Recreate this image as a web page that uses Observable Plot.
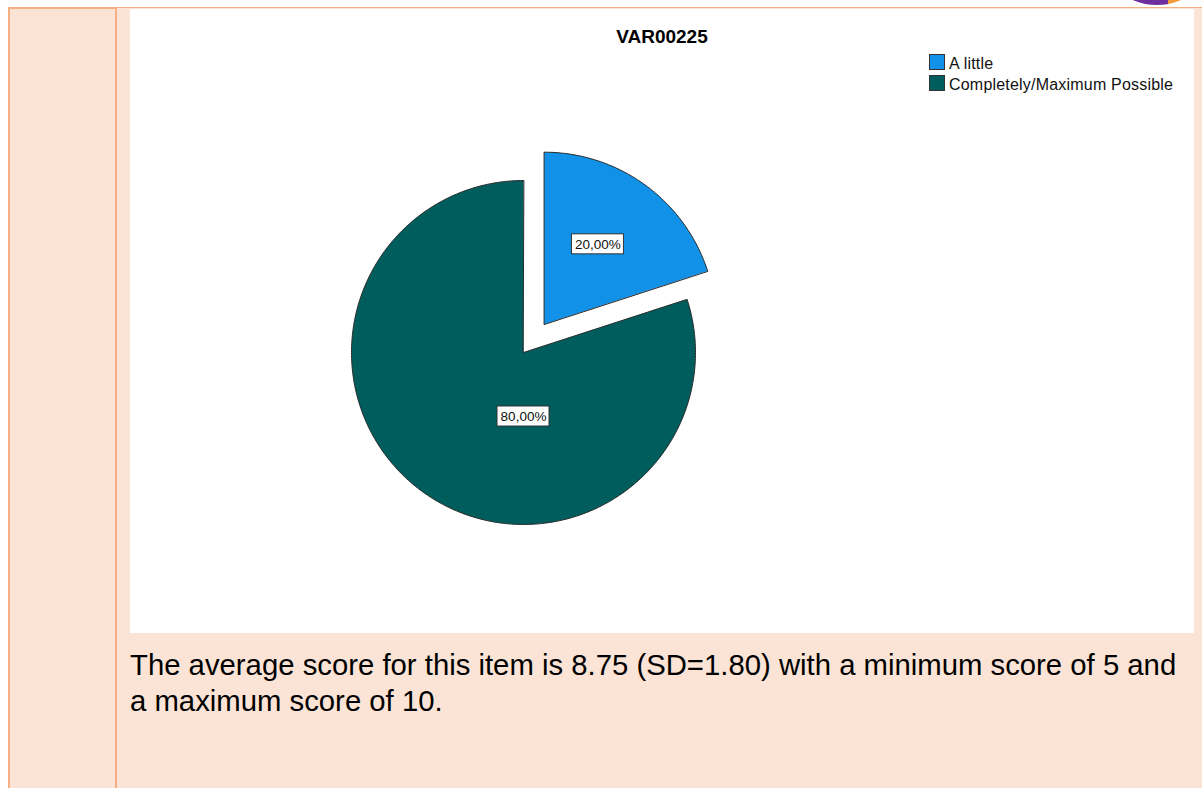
<!DOCTYPE html>
<html><head><meta charset="utf-8">
<script src="https://cdn.jsdelivr.net/npm/d3@7"></script>
<script src="https://cdn.jsdelivr.net/npm/@observablehq/plot@0.6"></script>
<style>
html,body{margin:0;padding:0;background:#fff;}
body{width:1202px;height:788px;position:relative;overflow:hidden;font-family:"Liberation Sans",Arial,sans-serif;}
#logo{position:absolute;left:1097px;top:-115px;width:120px;height:120px;border-radius:50%;background:linear-gradient(to right,#6e2f9e 0,#6e2f9e 59%,#f39a3b 59%,#f39a3b 100%);}
#topline{position:absolute;left:8px;top:7px;width:1194px;height:1px;background:#f4b083;}
#leftcell{position:absolute;left:8px;top:7px;width:105px;height:800px;background:#fbe4d5;border:2px solid #f4b083;border-bottom:none;}
#rightcell{position:absolute;left:117px;top:8px;right:0;bottom:0;background:#fbe4d5;}
#chart{position:absolute;left:130px;top:9px;width:1064px;height:624px;background:#fff;}
#chart svg{position:absolute;left:0;top:0;}
#title{position:absolute;left:0;top:18px;width:1064px;text-align:center;font-weight:bold;font-size:19px;line-height:20px;color:#000;}
.lrow{position:absolute;left:799px;height:16px;white-space:nowrap;}
.lsw{position:absolute;left:0;top:0;width:14px;height:14px;border:1px solid #333;}
.ltx{position:absolute;left:20px;top:0;font-size:16px;line-height:19px;letter-spacing:0.2px;color:#111;}
#para{position:absolute;left:130px;top:647px;font-size:29.3px;line-height:36px;color:#000;white-space:nowrap;}
</style></head>
<body>
<div id="logo"></div>
<div id="topline"></div>
<div id="leftcell"></div>
<div id="rightcell"></div>
<div id="chart"><div id="title"></div><div id="legend"></div></div>
<div id="para"></div>
<script>
const chartTitle = "VAR00225";
const categories = ["A little", "Completely/Maximum Possible"];
const percents = [20, 80];
const colors = ["#1192e8", "#005d5d"];
const paragraphLines = [
  "The average score for this item is 8.75 (SD=1.80) with a minimum score of 5 and",
  "a maximum score of 10."
];

const R = 172, EXPLODE = 35;
const total = d3.sum(percents);
const rad = d => d * Math.PI / 180;
const polar = (a, r, ox, oy) => [ox + r * Math.sin(rad(a)), oy + r * Math.cos(rad(a))];

let acc = 0;
const slices = categories.map((c, i) => {
  const a0 = acc / total * 360; acc += percents[i]; const a1 = acc / total * 360;
  const s = {c, v: percents[i], a0, a1, color: colors[i]};
  const mid = (a0 + a1) / 2;
  const off = i === 0 ? EXPLODE : 0;
  s.ox = off * Math.sin(rad(mid)); s.oy = off * Math.cos(rad(mid));
  const pts = [[s.ox, s.oy]];
  const n = Math.ceil(a1 - a0);
  for (let k = 0; k <= n; k++) pts.push(polar(a0 + (a1 - a0) * k / n, R, s.ox, s.oy));
  s.pts = pts.map(([x, y]) => ({x, y}));
  const span = a1 - a0;
  const la = span > 180 ? 180 : mid - 2;
  const lr = span > 180 ? 64 : 0.56 * R;
  [s.lx, s.ly] = polar(la, lr, s.ox, s.oy);
  s.label = (s.v / total * 100).toFixed(2).replace(".", ",") + "%";
  return s;
});

const plot = Plot.plot({
  width: 1064, height: 624, margin: 0,
  x: {domain: [-393, 671], axis: null},
  y: {domain: [-281, 343], axis: null},
  style: {background: "transparent", fontFamily: "Liberation Sans, Arial, sans-serif"},
  marks: [
    ...slices.map(s => Plot.line(s.pts, {x: "x", y: "y", curve: "linear-closed", fill: s.color, stroke: "#2b2b2b", strokeWidth: 1})),
    Plot.rect(slices, {x1: d => d.lx - 26, x2: d => d.lx + 26, y1: d => d.ly - 10, y2: d => d.ly + 10, fill: "#fff", stroke: "#333", strokeWidth: 1}),
    Plot.text(slices, {x: "lx", y: "ly", text: "label", fontSize: 13.5, fill: "#111"})
  ]
});
document.getElementById("chart").appendChild(plot);
document.getElementById("title").textContent = chartTitle;
const lg = document.getElementById("legend");
categories.forEach((c, i) => {
  const row = document.createElement("div");
  row.className = "lrow"; row.style.top = (45 + i * 21) + "px";
  row.innerHTML = `<div class="lsw" style="background:${colors[i]}"></div><div class="ltx"></div>`;
  row.querySelector(".ltx").textContent = c;
  lg.appendChild(row);
});
const para = document.getElementById("para");
paragraphLines.forEach((t, i) => { if (i) para.appendChild(document.createElement("br")); para.appendChild(document.createTextNode(t)); });
</script>
</body></html>
